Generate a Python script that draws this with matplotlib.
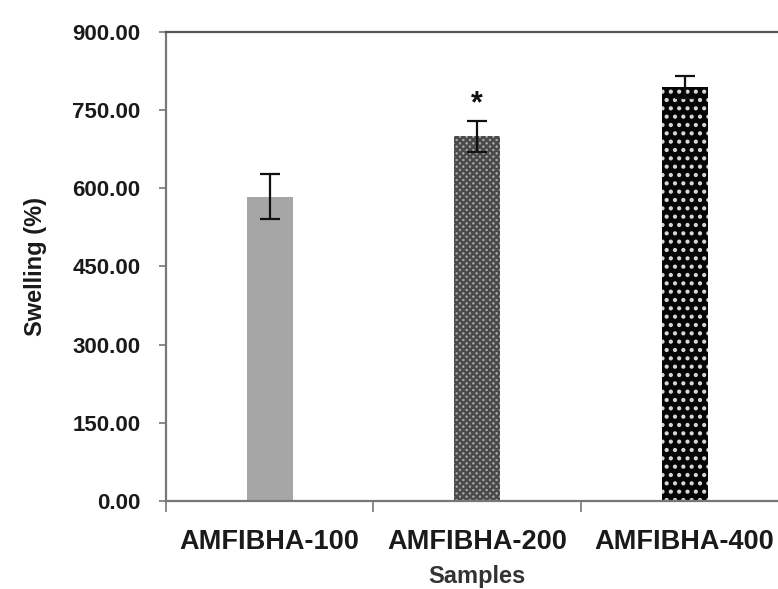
import matplotlib
matplotlib.use("Agg")
import matplotlib.pyplot as plt

categories = ["AMFIBHA-100", "AMFIBHA-200", "AMFIBHA-400"]
swelling = [584.0, 700.0, 794.0]
errors = [43.0, 30.0, 21.0]
yticks = [0, 150, 300, 450, 600, 750, 900]
significance = ["", "*", ""]

plt.rcParams['font.family'] = ['Liberation Sans', 'DejaVu Sans']
plt.rcParams['hatch.linewidth'] = 1.8

fig = plt.figure(figsize=(7.78, 5.89), dpi=100)
ax = fig.add_axes([0.2134, 0.1494, 0.8, 0.7963])

x = [1, 2, 3]
w = 0.22
ax.bar(x[0], swelling[0], width=w, color='#a6a6a6', linewidth=0, zorder=2)
ax.bar(x[1], swelling[1], width=w, color='#a8a8a8', edgecolor='#4a4a4a',
       hatch='xxxxx', linewidth=0, zorder=2)
ax.bar(x[2], swelling[2], width=w, color='#050505', edgecolor='#d8d8d8',
       hatch='..', linewidth=0, zorder=2)
ax.errorbar(x, swelling, yerr=errors, fmt='none', ecolor='#111111',
            elinewidth=1.6, capsize=7, capthick=1.6, zorder=3)
for xi, v, e, s in zip(x, swelling, errors, significance):
    if s:
        ax.text(xi, v + e + 3, s, ha='center', va='bottom', fontsize=22,
                fontweight='bold', color='#111111')

ax.set_xlim(0.5, 3.5)
ax.set_ylim(0, 900)
ax.set_yticks(yticks)
ax.set_yticklabels([f"{v:.2f}" for v in yticks], fontsize=16, fontweight='bold',
                   color='#1a1a1a')
ax.set_xticks(x)
ax.set_xticklabels(categories, fontsize=19.5, fontweight='bold', color='#1a1a1a')
ax.set_xticks([0.5, 1.5, 2.5, 3.5], minor=True)
ax.tick_params(axis='x', which='major', length=0, pad=20)
ax.tick_params(axis='x', which='minor', length=8, width=1.2, color='#777777', direction='out')
ax.tick_params(axis='y', length=5, width=1.2, color='#777777', direction='out', pad=13.5)

ax.set_ylabel("Swelling (%)", fontsize=17, fontweight='bold', color='#1a1a1a',
              labelpad=18)
ax.set_xlabel("Samples", fontsize=17, fontweight='bold', color='#333333', labelpad=7)

for sp in ['left', 'bottom', 'top']:
    ax.spines[sp].set_color('#777777')
    ax.spines[sp].set_linewidth(1.6)
ax.spines['top'].set_color('#555555')
ax.spines['right'].set_visible(False)

fig.savefig("out.png", dpi=100)
